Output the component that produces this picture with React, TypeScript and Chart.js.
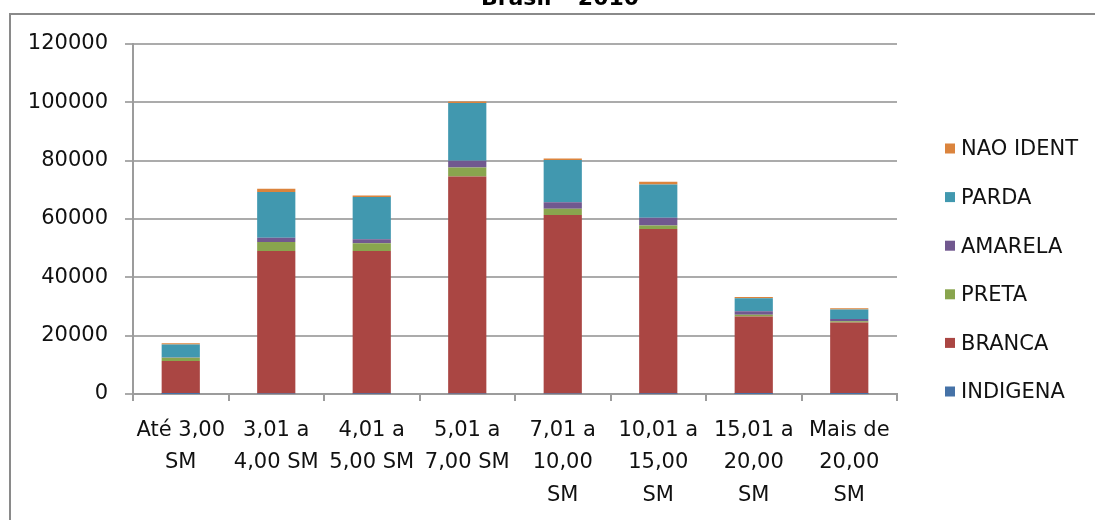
import React, { useEffect, useRef } from "react";
import { Chart, registerables } from "chart.js";

Chart.register(...registerables);

const categories: string[][] = [
  ["Até 3,00", "SM"],
  ["3,01 a", "4,00 SM"],
  ["4,01 a", "5,00 SM"],
  ["5,01 a", "7,00 SM"],
  ["7,01 a", "10,00", "SM"],
  ["10,01 a", "15,00", "SM"],
  ["15,01 a", "20,00", "SM"],
  ["Mais de", "20,00", "SM"],
];

const indigena = [40, 150, 120, 180, 130, 90, 40, 30];
const branca = [11300, 48900, 48900, 74400, 61250, 56450, 26500, 24450];
const preta = [1100, 3100, 2650, 3100, 2150, 1250, 600, 450];
const amarela = [100, 1400, 1350, 2300, 2200, 2650, 1250, 800];
const parda = [4400, 15750, 14500, 19750, 14500, 11400, 4450, 3200];
const naoIdent = [500, 1050, 500, 550, 500, 950, 450, 500];

const seriesNames = ["INDIGENA", "BRANCA", "PRETA", "AMARELA", "PARDA", "NAO IDENT"];
const seriesColors = ["#4572A7", "#AA4643", "#89A54E", "#71588F", "#4198AF", "#DB843D"];

const titleText = "Brasil – 2010";
const yMax = 120000;
const yStep = 20000;

const FONT = "'DejaVu Sans', sans-serif";

export default function App() {
  const ref = useRef<HTMLCanvasElement | null>(null);

  useEffect(() => {
    if (!ref.current) return;
    const values = [indigena, branca, preta, amarela, parda, naoIdent];

    const overlayPlugin = {
      id: "overlay",
      afterDraw(chart: any) {
        const ctx = chart.ctx;
        ctx.save();
        // title (cut off at the top)
        ctx.font = `bold 22px ${FONT}`;
        ctx.fillStyle = "#000";
        ctx.textAlign = "center";
        ctx.textBaseline = "alphabetic";
        ctx.fillText(titleText, 560, 4.5);
        // legend (reversed order)
        const ds = chart.data.datasets.slice().reverse();
        ctx.font = `21px ${FONT}`;
        ctx.textAlign = "left";
        ctx.textBaseline = "middle";
        ds.forEach((d: any, i: number) => {
          const cy = 148.5 + i * 48.6;
          ctx.fillStyle = d.backgroundColor;
          ctx.fillRect(945, cy - 5, 10, 10);
          ctx.fillStyle = "#111";
          ctx.fillText(d.label, 961, cy + 1.5);
        });
        ctx.restore();
      },
    };

    const chart = new Chart(ref.current, {
      type: "bar",
      data: {
        labels: categories,
        datasets: seriesNames.map((name, i) => ({
          label: name,
          data: values[i],
          backgroundColor: seriesColors[i],
          borderWidth: 0,
          barPercentage: 0.4,
          categoryPercentage: 1,
        })),
      },
      options: {
        responsive: false,
        animation: false,
        devicePixelRatio: 1,
        layout: { padding: { top: 44, right: 198, left: 0, bottom: 0 } },
        plugins: {
          legend: { display: false },
          title: { display: false },
          tooltip: { enabled: false },
        },
        scales: {
          x: {
            stacked: true,
            afterFit: (s: any) => {
              s.height = 126;
            },
            grid: {
              drawOnChartArea: false,
              drawTicks: true,
              tickLength: 7,
              color: "#9C9C9C",
              lineWidth: 2,
              offset: true,
            },
            border: { color: "#9C9C9C", width: 2 },
            ticks: {
              color: "#111",
              font: { family: FONT, size: 21, lineHeight: 1.55 },
              padding: 13,
              maxRotation: 0,
              autoSkip: false,
            },
          },
          y: {
            stacked: true,
            min: 0,
            max: yMax,
            afterFit: (s: any) => {
              s.width = 133;
            },
            grid: {
              color: "#ABABAB",
              lineWidth: 2,
              tickLength: 8,
              drawTicks: true,
            },
            border: { color: "#9C9C9C", width: 2 },
            ticks: {
              stepSize: yStep,
              color: "#111",
              font: { family: FONT, size: 21 },
              padding: 17,
              callback: (v: any) => String(v),
            },
          },
        },
      },
      plugins: [overlayPlugin],
    });
    return () => chart.destroy();
  }, []);

  return (
    <div
      style={{
        position: "absolute",
        left: 0,
        top: 0,
        width: 1095,
        height: 520,
        overflow: "hidden",
        background: "#fff",
      }}
    >
      <div
        style={{
          position: "absolute",
          left: 9,
          top: 13,
          width: 1200,
          height: 700,
          border: "2px solid #8A8A8A",
          boxSizing: "border-box",
        }}
      />
      <canvas
        ref={ref}
        width={1095}
        height={520}
        style={{ position: "absolute", left: 0, top: 0, width: 1095, height: 520 }}
      />
    </div>
  );
}
